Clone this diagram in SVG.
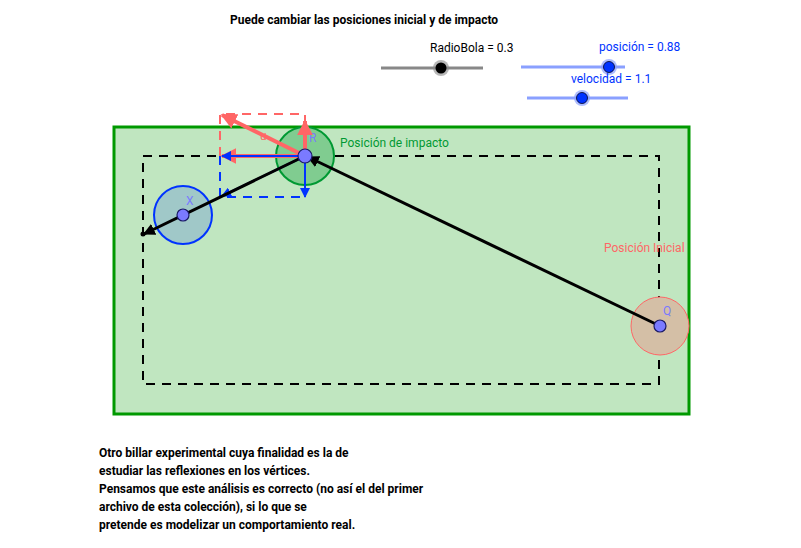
<svg xmlns="http://www.w3.org/2000/svg" width="801" height="548" viewBox="0 0 801 548">
<style>
text{font-family:Roboto,"Liberation Sans",sans-serif;font-size:12px}
.b{font-weight:bold;fill:#000}
.dash{fill:none;stroke-width:2;stroke-dasharray:9,7}
.pt{fill:#7a7aff;stroke:#1a1a66;stroke-width:1.2}
</style>
<defs>
<marker id="ak" viewBox="0 0 10 10" refX="9" refY="5" markerWidth="4" markerHeight="4" orient="auto"><path d="M0,0L10,5L0,10z" fill="#000"/></marker>
<marker id="ar" viewBox="0 0 10 10" refX="9" refY="5" markerWidth="4" markerHeight="4" orient="auto"><path d="M0,0L10,5L0,10z" fill="#ff6666"/></marker>
<marker id="ab" viewBox="0 0 10 10" refX="9" refY="5" markerWidth="5" markerHeight="5" orient="auto"><path d="M0,0L10,5L0,10z" fill="#0033ff"/></marker>
</defs>
<rect width="801" height="548" fill="#fff"/>
<text class="b" x="230" y="24">Puede cambiar las posiciones inicial y de impacto</text>
<g id="sliders">
<text x="430" y="52" fill="#000">RadioBola = 0.3</text>
<line x1="381" y1="68" x2="483" y2="68" stroke="#888" stroke-width="3"/>
<circle cx="441" cy="68" r="8" fill="#888" opacity="0.6"/><circle cx="441" cy="68" r="5.5" fill="#000"/>
<text x="599" y="51" fill="#0033ff">posición = 0.88</text>
<line x1="521" y1="67" x2="625" y2="67" stroke="#8aa0ff" stroke-width="3"/>
<circle cx="609" cy="67" r="8" fill="#8aa0ff" opacity="0.7"/><circle cx="609" cy="67" r="5.5" fill="#0033ff" stroke="#002" stroke-width="0.8"/>
<text x="571" y="83" fill="#0033ff">velocidad = 1.1</text>
<line x1="527" y1="98" x2="628" y2="98" stroke="#8aa0ff" stroke-width="3"/>
<circle cx="582" cy="98" r="8" fill="#8aa0ff" opacity="0.7"/><circle cx="582" cy="98" r="5.5" fill="#0033ff" stroke="#002" stroke-width="0.8"/>
</g>
<g id="table">
<rect x="114" y="127" width="575" height="287" fill="#c0e6c0" stroke="#009900" stroke-width="3"/>
<rect x="143" y="156" width="516" height="228" class="dash" stroke="#000"/>
</g>
<g id="Q"><circle cx="660" cy="326" r="29" fill="#d4bfa6" stroke="#ff6666" stroke-width="1"/>
<text x="663" y="315" fill="#7a7aff">Q</text>
<text x="604" y="252" fill="#ff6666">Posición Inicial</text></g>
<g id="X"><circle cx="183" cy="215" r="29" fill="#a0c8c8" stroke="#0033ff" stroke-width="2"/>
<text x="186" y="205" fill="#7a7aff">X</text></g>
<g id="R"><circle cx="305" cy="156" r="29" fill="#80cc90" stroke="#009933" stroke-width="2"/>
<text x="309" y="142" fill="#7a7aff">R</text>
<text x="340" y="147" fill="#009933">Posición de impacto</text></g>
<g id="vectors">
<path d="M220,156V197H305" class="dash" stroke="#0033ff"/>
<path d="M220,156V114H305V121" class="dash" stroke="#ff6666"/>
<line x1="305" y1="156" x2="222" y2="196" stroke="#0033ff" stroke-width="2" marker-end="url(#ab)"/>
<line x1="305" y1="156" x2="222" y2="115" stroke="#ff6666" stroke-width="4" marker-end="url(#ar)"/>
<line x1="305" y1="156" x2="305" y2="121" stroke="#ff6666" stroke-width="4" marker-end="url(#ar)"/>
<line x1="305" y1="156" x2="222" y2="156" stroke="#ff6666" stroke-width="4" marker-end="url(#ar)"/>
<line x1="305" y1="156" x2="222" y2="156" stroke="#0033ff" stroke-width="2" marker-end="url(#ab)"/>
<line x1="305" y1="156" x2="305" y2="197" stroke="#0033ff" stroke-width="2" marker-end="url(#ab)"/>
<text x="260" y="140" fill="#ff6666" font-size="10">u</text>
</g>
<g id="connectors">
<line x1="660" y1="326" x2="308" y2="157" stroke="#000" stroke-width="3" marker-end="url(#ak)"/>
<line x1="305" y1="156" x2="144" y2="234" stroke="#000" stroke-width="3" marker-end="url(#ak)"/>
<circle cx="143" cy="234" r="2.5" fill="#000"/>
</g>
<circle cx="660" cy="326" r="6" class="pt"/>
<circle cx="183" cy="215" r="6" class="pt"/>
<circle cx="305" cy="156" r="7" class="pt"/>
<g id="note">
<text class="b" x="99" y="457">Otro billar experimental cuya finalidad es la de</text>
<text class="b" x="99" y="475">estudiar las reflexiones en los vértices.</text>
<text class="b" x="99" y="493">Pensamos que este análisis es correcto (no así el del primer</text>
<text class="b" x="99" y="511">archivo de esta colección), si lo que se</text>
<text class="b" x="99" y="529">pretende es modelizar un comportamiento real.</text>
</g>
</svg>
